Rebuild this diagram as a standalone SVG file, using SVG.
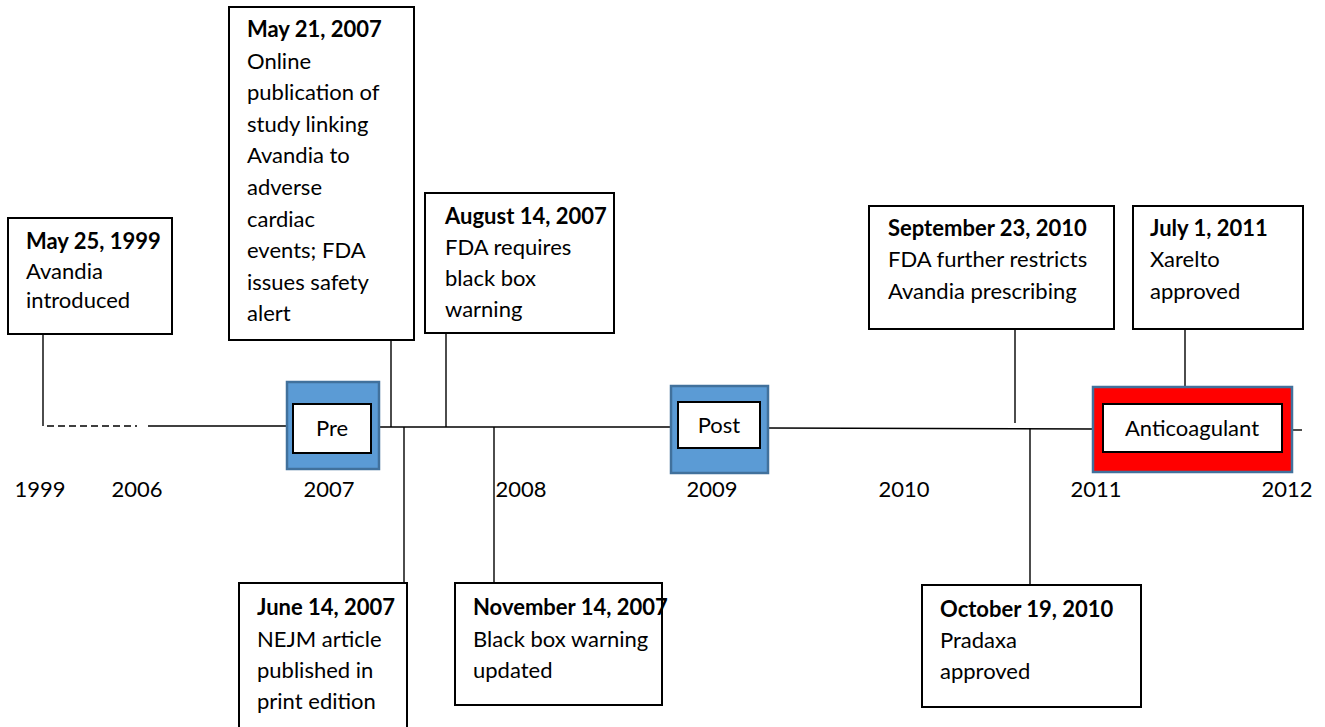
<svg xmlns="http://www.w3.org/2000/svg" width="1325" height="727" viewBox="0 0 1325 727">
<style>
text{font-family:Lato,"Open Sans","Liberation Sans",sans-serif;font-size:22px;fill:#000}
.b{font-weight:bold}
.box{fill:#fff;stroke:#000;stroke-width:2}
.ln{stroke:#000;stroke-width:1.4;fill:none}
.outer{stroke:#41719C;stroke-width:2.5}
.yr{text-anchor:middle}
.c{text-anchor:middle}
</style>
<rect width="1325" height="727" fill="#fff"/>
<g id="connectors">
<line class="ln" x1="47" y1="426" x2="137" y2="426" stroke-dasharray="7,4"/>
<line class="ln" x1="148" y1="426" x2="287" y2="426"/>
<line class="ln" x1="379" y1="427" x2="671" y2="427"/>
<line class="ln" x1="768" y1="428" x2="1093" y2="429"/>
<line class="ln" x1="1292" y1="430" x2="1302" y2="430"/>
<line class="ln" x1="43" y1="334" x2="43" y2="426"/>
<line class="ln" x1="391" y1="340" x2="391" y2="427"/>
<line class="ln" x1="446" y1="333" x2="446" y2="427"/>
<line class="ln" x1="404" y1="427" x2="404" y2="583"/>
<line class="ln" x1="494" y1="427" x2="494" y2="583"/>
<line class="ln" x1="1015" y1="329" x2="1015" y2="423"/>
<line class="ln" x1="1030" y1="428" x2="1030" y2="585"/>
<line class="ln" x1="1185" y1="329" x2="1185" y2="387"/>
</g>
<g id="years">
<text class="yr" x="40" y="497">1999</text>
<text class="yr" x="137" y="497">2006</text>
<text class="yr" x="329" y="497">2007</text>
<text class="yr" x="521" y="497">2008</text>
<text class="yr" x="712" y="497">2009</text>
<text class="yr" x="904" y="497">2010</text>
<text class="yr" x="1096" y="497">2011</text>
<text class="yr" x="1287" y="497">2012</text>
</g>
<g id="pre">
<rect class="outer" x="287" y="382" width="92" height="87" fill="#5B9BD5"/>
<rect class="box" x="293" y="404" width="78" height="49"/>
<text class="c" x="332" y="436">Pre</text>
</g>
<g id="post">
<rect class="outer" x="671" y="386" width="97" height="87" fill="#5B9BD5"/>
<rect class="box" x="678" y="402" width="82" height="46"/>
<text class="c" x="719" y="433">Post</text>
</g>
<g id="anticoagulant">
<rect class="outer" x="1093" y="387" width="199" height="85" fill="#FF0000"/>
<rect class="box" x="1103" y="404" width="179" height="48"/>
<text class="c" x="1192" y="436">Anticoagulant</text>
</g>
<g id="may25">
<rect class="box" x="8" y="218" width="164" height="116"/>
<text x="26" y="249"><tspan class="b">May 25, 1999</tspan><tspan x="26" y="279">Avandia</tspan><tspan x="26" y="308">introduced</tspan></text>
</g>
<g id="may21">
<rect class="box" x="229" y="7" width="185" height="333"/>
<text x="247" y="37"><tspan class="b">May 21, 2007</tspan><tspan x="247" y="68.6">Online</tspan><tspan x="247" y="100.2">publication of</tspan><tspan x="247" y="131.8">study linking</tspan><tspan x="247" y="163.4">Avandia to</tspan><tspan x="247" y="195">adverse</tspan><tspan x="247" y="226.6">cardiac</tspan><tspan x="247" y="258.2">events; FDA</tspan><tspan x="247" y="289.8">issues safety</tspan><tspan x="247" y="321.4">alert</tspan></text>
</g>
<g id="aug14">
<rect class="box" x="425" y="193" width="189" height="140"/>
<text x="445" y="224"><tspan class="b">August 14, 2007</tspan><tspan x="445" y="255">FDA requires</tspan><tspan x="445" y="286">black box</tspan><tspan x="445" y="317">warning</tspan></text>
</g>
<g id="sep23">
<rect class="box" x="869" y="206" width="245" height="123"/>
<text x="888" y="236"><tspan class="b">September 23, 2010</tspan><tspan x="888" y="267">FDA further restricts</tspan><tspan x="888" y="299">Avandia prescribing</tspan></text>
</g>
<g id="jul1">
<rect class="box" x="1133" y="206" width="170" height="123"/>
<text x="1150" y="236"><tspan class="b">July 1, 2011</tspan><tspan x="1150" y="267">Xarelto</tspan><tspan x="1150" y="299">approved</tspan></text>
</g>
<g id="jun14">
<rect class="box" x="239" y="583" width="168" height="150"/>
<text x="257" y="615"><tspan class="b">June 14, 2007</tspan><tspan x="257" y="647">NEJM article</tspan><tspan x="257" y="678">published in</tspan><tspan x="257" y="709">print edition</tspan></text>
</g>
<g id="nov14">
<rect class="box" x="455" y="583" width="207" height="122"/>
<text x="473" y="615"><tspan class="b">November 14, 2007</tspan><tspan x="473" y="647">Black box warning</tspan><tspan x="473" y="678">updated</tspan></text>
</g>
<g id="oct19">
<rect class="box" x="922" y="585" width="219" height="122"/>
<text x="940" y="617"><tspan class="b">October 19, 2010</tspan><tspan x="940" y="648">Pradaxa</tspan><tspan x="940" y="679">approved</tspan></text>
</g>
</svg>
